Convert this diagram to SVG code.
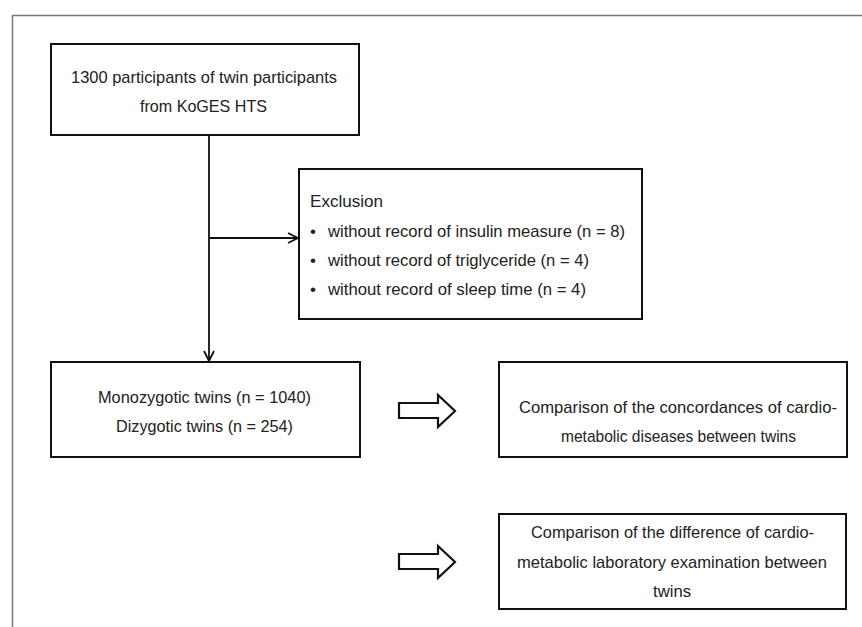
<svg xmlns="http://www.w3.org/2000/svg" width="862" height="627" viewBox="0 0 862 627">
<style>
.box{fill:#fff;stroke:#111;stroke-width:2}
.t{font-family:"Liberation Sans",Arial,sans-serif;font-size:17px;fill:#222}
.ln{stroke:#111;stroke-width:1.8;fill:none}
.blk{fill:#fff;stroke:#111;stroke-width:2.2;stroke-linejoin:miter}
</style>
<defs>
<marker id="ah" viewBox="0 0 12 12" refX="11" refY="6" markerWidth="12" markerHeight="12" markerUnits="userSpaceOnUse" orient="auto">
<path d="M1,1 L11,6 L1,11" fill="none" stroke="#111" stroke-width="1.8"/>
</marker>
</defs>
<rect x="0" y="0" width="862" height="627" fill="#fff"/>
<path d="M12.5,627 V15.5 H862" fill="none" stroke="#777" stroke-width="1.5"/>

<g id="connectors">
<line class="ln" x1="209" y1="135" x2="209" y2="361" marker-end="url(#ah)"/>
<line class="ln" x1="209" y1="238" x2="298" y2="238" marker-end="url(#ah)"/>
<path class="blk" d="M399,403 H438 V395 L455,411 L438,427 V418 H399 Z"/>
<path class="blk" d="M399,554 H438 V546 L455,562 L438,578 V569 H399 Z"/>
</g>

<g id="source">
<rect class="box" x="51" y="44" width="308" height="91"/>
<text class="t" x="71" y="83" textLength="266" lengthAdjust="spacingAndGlyphs">1300 participants of twin participants</text>
<text class="t" x="140" y="112" textLength="127" lengthAdjust="spacingAndGlyphs">from KoGES HTS</text>
</g>

<g id="exclusion">
<rect class="box" x="299" y="169" width="343" height="150"/>
<text class="t" x="310" y="207" textLength="73" lengthAdjust="spacingAndGlyphs">Exclusion</text>
<text class="t" x="310" y="237">•</text>
<text class="t" x="328" y="237" textLength="297" lengthAdjust="spacingAndGlyphs">without  record of insulin measure (n = 8)</text>
<text class="t" x="310" y="266">•</text>
<text class="t" x="328" y="266" textLength="261" lengthAdjust="spacingAndGlyphs">without  record of triglyceride (n = 4)</text>
<text class="t" x="310" y="295">•</text>
<text class="t" x="328" y="295" textLength="258" lengthAdjust="spacingAndGlyphs">without  record of sleep time (n = 4)</text>
</g>

<g id="twins">
<rect class="box" x="51" y="362" width="309" height="95"/>
<text class="t" x="98" y="403" textLength="213" lengthAdjust="spacingAndGlyphs">Monozygotic twins (n = 1040)</text>
<text class="t" x="116" y="432" textLength="177" lengthAdjust="spacingAndGlyphs">Dizygotic twins (n = 254)</text>
</g>

<g id="concordance">
<rect class="box" x="499" y="362" width="348" height="95"/>
<text class="t" x="519" y="413" textLength="318" lengthAdjust="spacingAndGlyphs">Comparison of the concordances of cardio-</text>
<text class="t" x="561" y="442" textLength="235" lengthAdjust="spacingAndGlyphs">metabolic diseases between twins</text>
</g>

<g id="difference">
<rect class="box" x="499" y="514" width="347" height="95"/>
<text class="t" x="531" y="538" textLength="283" lengthAdjust="spacingAndGlyphs">Comparison of the difference of cardio-</text>
<text class="t" x="517" y="568" textLength="310" lengthAdjust="spacingAndGlyphs">metabolic laboratory examination between</text>
<text class="t" x="653" y="597" textLength="38" lengthAdjust="spacingAndGlyphs">twins</text>
</g>
</svg>
